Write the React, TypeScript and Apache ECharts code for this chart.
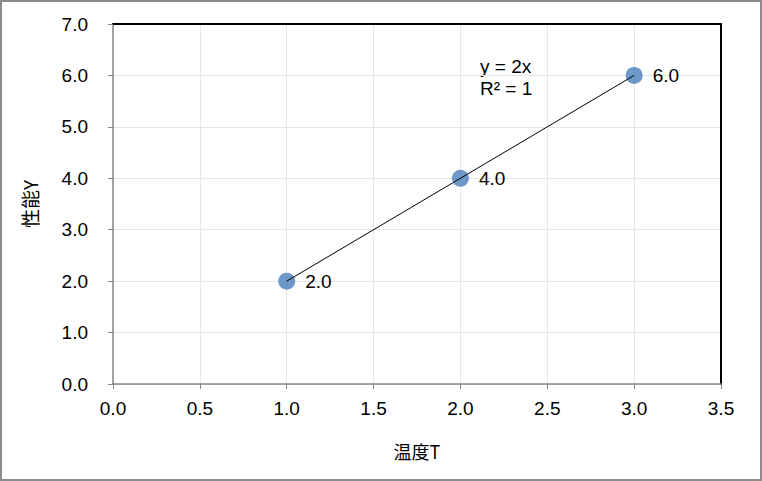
import React, { useEffect, useRef } from "react";
import * as echarts from "echarts";

const xValues = [1.0, 2.0, 3.0];
const yValues = [2.0, 4.0, 6.0];
const trendX = [1.0, 3.0];
const trendY = [2.0, 6.0];
const equationLines = ["y = 2x", "R² = 1"];
const xName = "温度T";
const yName = "性能Y";

const FONT = "'Liberation Sans', Arial, sans-serif";
const CJK = "'Noto Sans CJK SC', 'Liberation Sans', sans-serif";

export default function App() {
  const ref = useRef<HTMLDivElement>(null);
  useEffect(() => {
    document.body.style.margin = "0";
    const chart = echarts.init(ref.current!, undefined, { renderer: "svg" });
    const frameAxis = {
      type: "value",
      min: 0,
      axisLine: { show: true, onZero: false, lineStyle: { color: "#000", width: 2 } },
      axisTick: { show: false },
      axisLabel: { show: false },
      splitLine: { show: false },
    };
    chart.setOption({
      animation: false,
      backgroundColor: "#ffffff",
      grid: {
        left: 113,
        right: 41,
        top: 24,
        bottom: 97,
      },
      xAxis: [
        {
          type: "value",
          min: 0,
          max: 3.5,
          interval: 0.5,
          name: xName,
          nameLocation: "middle",
          nameGap: 58,
          nameTextStyle: { fontFamily: CJK, fontSize: 18, color: "#000" },
          axisLine: { show: true, onZero: false, lineStyle: { color: "#868686", width: 1.5 } },
          axisTick: { show: true, length: 5, lineStyle: { color: "#868686" } },
          axisLabel: {
            fontFamily: FONT,
            fontSize: 19,
            color: "#000",
            margin: 15,
            formatter: (v: number) => v.toFixed(1),
          },
          splitLine: { show: true, lineStyle: { color: "#e6e6e6", width: 1 } },
        },
        { ...frameAxis, max: 3.5, interval: 0.5, position: "top" },
      ],
      yAxis: [
        {
          type: "value",
          min: 0,
          max: 7,
          interval: 1,
          name: yName,
          nameLocation: "middle",
          nameRotate: 90,
          nameGap: 74,
          nameTextStyle: { fontFamily: CJK, fontSize: 19, color: "#000" },
          axisLine: { show: true, onZero: false, lineStyle: { color: "#868686", width: 1.5 } },
          axisTick: { show: true, length: 5, lineStyle: { color: "#868686" } },
          axisLabel: {
            fontFamily: FONT,
            fontSize: 19,
            color: "#000",
            margin: 25,
            formatter: (v: number) => v.toFixed(1),
          },
          splitLine: { show: true, lineStyle: { color: "#e6e6e6", width: 1 } },
        },
        { ...frameAxis, max: 7, interval: 1, position: "right" },
      ],
      series: [
        {
          type: "scatter",
          data: xValues.map((x, i) => [x, yValues[i]]),
          symbolSize: 17,
          itemStyle: { color: "#4a7ebb" },
          z: 2,
          label: {
            show: true,
            position: "right",
            distance: 10,
            fontFamily: FONT,
            fontSize: 19,
            color: "#000000",
            opacity: 1,
            textBorderWidth: 0,
            formatter: (p: any) => p.value[1].toFixed(1),
          },
          emphasis: { disabled: true },
        },
        {
          type: "line",
          data: trendX.map((x, i) => [x, trendY[i]]),
          symbol: "none",
          lineStyle: { color: "#000", width: 1 },
          z: 3,
          silent: true,
        },
      ],
      graphic: [
        {
          type: "rect",
          shape: { x: 1, y: 1, width: 760, height: 479 },
          style: { fill: "none", stroke: "#8c8c8c", lineWidth: 2 },
          silent: true,
        },
        {
          type: "text",
          left: 480,
          top: 55,
          style: {
            text: equationLines.join("\n"),
            fontFamily: FONT,
            fontSize: 19,
            lineHeight: 22,
            fill: "#000",
          },
        },
      ],
    });
    return () => chart.dispose();
  }, []);
  return <div ref={ref} style={{ width: 762, height: 481 }} />;
}
